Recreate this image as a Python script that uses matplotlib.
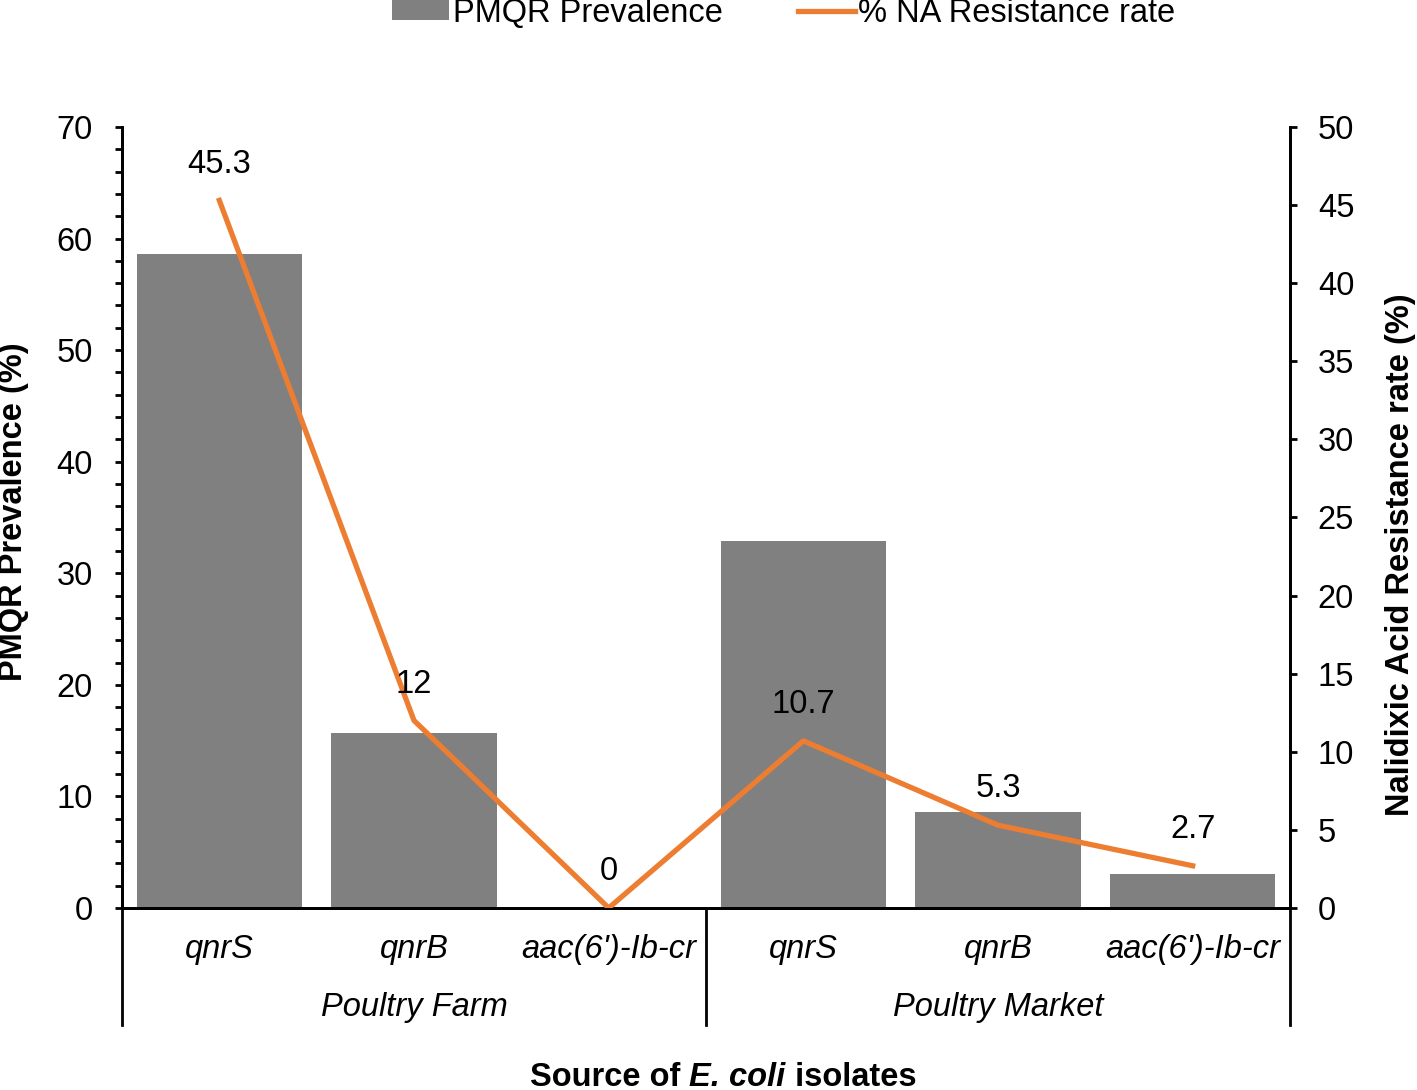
import matplotlib
matplotlib.use("Agg")
import matplotlib.pyplot as plt
import matplotlib.transforms as mtransforms
from matplotlib.offsetbox import AnchoredOffsetbox, HPacker, TextArea
from matplotlib.ticker import MultipleLocator

plt.rcParams['font.family'] = ['Liberation Sans', 'DejaVu Sans']

# Data
genes = ['qnrS', 'qnrB', "aac(6')-Ib-cr", 'qnrS', 'qnrB', "aac(6')-Ib-cr"]
sources = ['Poultry Farm', 'Poultry Market']
pmqr_prevalence = [58.6, 15.7, 0.0, 32.9, 8.6, 3.0]
na_resistance = [45.3, 12, 0, 10.7, 5.3, 2.7]
na_labels = ['45.3', '12', '0', '10.7', '5.3', '2.7']

bar_color = '#808080'
line_color = '#ED7D31'
fs = 23.5

fig = plt.figure(figsize=(14.17, 10.90), dpi=100)
ax = fig.add_axes([0.0861, 0.1670, 0.8243, 0.7165])
ax2 = ax.twinx()

x = list(range(len(genes)))
bars = ax.bar(x, pmqr_prevalence, width=0.85, color=bar_color,
              label='PMQR Prevalence', zorder=2)
line, = ax2.plot(x, na_resistance, color=line_color, lw=3.8,
                 label='% NA Resistance rate', zorder=3)
for xi, yi, txt in zip(x, na_resistance, na_labels):
    ax2.annotate(txt, (xi, yi), xytext=(0, 15), textcoords='offset points',
                 ha='center', va='bottom', fontsize=fs)

ax.set_xlim(-0.5, len(genes) - 0.5)
ax.set_ylim(0, 70)
ax2.set_ylim(0, 50)
ax.yaxis.set_major_locator(MultipleLocator(10))
ax.yaxis.set_minor_locator(MultipleLocator(2))
ax2.yaxis.set_major_locator(MultipleLocator(5))

# Spines
ax.spines['top'].set_visible(False)
ax2.spines['top'].set_visible(False)
for a in (ax, ax2):
    for s in a.spines.values():
        s.set_linewidth(2.0)
ax.set_zorder(ax2.get_zorder() - 1)
ax2.patch.set_visible(False)

ax.tick_params(axis='y', which='major', direction='out', length=5,
               width=2, labelsize=fs, pad=16)
ax.tick_params(axis='y', which='minor', direction='out', length=5, width=2)
ax2.tick_params(axis='y', direction='out', length=5, width=2,
                labelsize=fs, pad=15)

# Category labels
ax.set_xticks(x)
ax.set_xticklabels(genes, fontsize=fs, style='italic')
ax.tick_params(axis='x', length=0, pad=19)

# Group separators and group labels
trans = mtransforms.blended_transform_factory(ax.transData, ax.transAxes)
for sep in (-0.5, 2.5, 5.5):
    ax.plot([sep, sep], [0, -0.15], color='black', lw=2.0,
            transform=trans, clip_on=False)
for i, src in enumerate(sources):
    ax.text(1 + 3 * i, -0.127, src, transform=trans, ha='center',
            va='center', fontsize=fs, style='italic')

# Axis titles
fig.text(14 / 1417, 0.531, 'PMQR Prevalence (%)', rotation=90,
         ha='center', va='center', fontsize=fs, fontweight='bold')
fig.text(1400 / 1417, 0.491, 'Nalidixic Acid Resistance rate (%)',
         rotation=90, ha='center', va='center', fontsize=fs,
         fontweight='bold')

parts = [TextArea('Source of ', textprops=dict(fontsize=fs, fontweight='bold')),
         TextArea('E. coli', textprops=dict(fontsize=fs, fontweight='bold',
                                            style='italic')),
         TextArea(' isolates', textprops=dict(fontsize=fs, fontweight='bold'))]
xtitle = AnchoredOffsetbox(loc='center', child=HPacker(children=parts, pad=0,
                                                       sep=0),
                           frameon=False, pad=0,
                           bbox_to_anchor=(723 / 1417, 1 - 1077 / 1090),
                           bbox_transform=fig.transFigure)
fig.add_artist(xtitle)

fig.legend([bars, line], ['PMQR Prevalence', '% NA Resistance rate'],
           loc='center', bbox_to_anchor=(0.553, 0.988), ncol=2,
           frameon=False, fontsize=fs, handlelength=1.75, handleheight=0.6,
           columnspacing=2.3, handletextpad=0.1)

fig.savefig('out.png', dpi=100)
